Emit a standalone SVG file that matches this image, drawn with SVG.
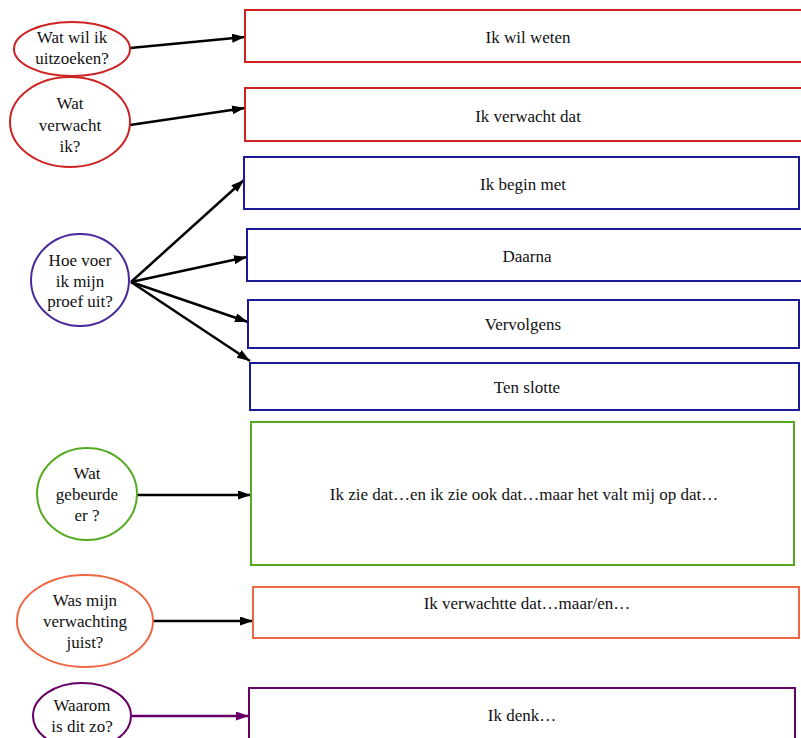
<svg xmlns="http://www.w3.org/2000/svg" width="801" height="738" viewBox="0 0 801 738">
<style>
text{font-size:17px;fill:#111;text-anchor:middle}
.n{fill:#fff;stroke-width:2}
.c line{stroke:#000;stroke-width:2.5}
</style>
<defs>
<marker id="ah" markerWidth="13" markerHeight="9" refX="13" refY="4.5" orient="auto" markerUnits="userSpaceOnUse"><path d="M0,0L13,4.5L0,9z" fill="#000"/></marker>
<marker id="ahp" markerWidth="13" markerHeight="9" refX="13" refY="4.5" orient="auto" markerUnits="userSpaceOnUse"><path d="M0,0L13,4.5L0,9z" fill="#660066"/></marker>
</defs>
<rect width="801" height="738" fill="#fff"/>
<g class="c" id="connectors">
<line x1="130" y1="48" x2="245" y2="37" marker-end="url(#ah)"/>
<line x1="130" y1="125" x2="245" y2="108" marker-end="url(#ah)"/>
<line x1="131" y1="282" x2="244" y2="180" marker-end="url(#ah)"/>
<line x1="131" y1="282" x2="247" y2="257" marker-end="url(#ah)"/>
<line x1="131" y1="282" x2="248" y2="322" marker-end="url(#ah)"/>
<line x1="131" y1="282" x2="250" y2="361" marker-end="url(#ah)"/>
<line x1="137" y1="495" x2="251" y2="495" marker-end="url(#ah)"/>
<line x1="153" y1="621" x2="253" y2="621" marker-end="url(#ah)"/>
<line x1="132" y1="716" x2="249" y2="716" style="stroke:#660066" marker-end="url(#ahp)"/>
</g>
<g font-family="'Liberation Serif', Tinos, 'Times New Roman', 'DejaVu Serif', 'Noto Serif', serif">
<g id="q1"><ellipse class="n" cx="72" cy="49" rx="58" ry="27" stroke="#cc2222"/><text x="72" y="43">Wat wil ik</text><text x="72" y="64">uitzoeken?</text></g>
<g id="q2"><ellipse class="n" cx="70" cy="122" rx="60" ry="45" stroke="#cc2222"/><text x="70" y="109">Wat</text><text x="70" y="131">verwacht</text><text x="70" y="152">ik?</text></g>
<g id="q3"><ellipse class="n" cx="80" cy="280" rx="49" ry="46" stroke="#4a2a99"/><text x="80" y="266">Hoe voer</text><text x="80" y="287">ik mijn</text><text x="80" y="307">proef uit?</text></g>
<g id="q4"><ellipse class="n" cx="87" cy="494" rx="50" ry="46" stroke="#55aa22"/><text x="87" y="479">Wat</text><text x="87" y="500">gebeurde</text><text x="87" y="521">er ?</text></g>
<g id="q5"><ellipse class="n" cx="85" cy="621" rx="68" ry="46" stroke="#ee6644"/><text x="85" y="606">Was mijn</text><text x="85" y="627">verwachting</text><text x="85" y="648">juist?</text></g>
<g id="q6"><ellipse class="n" cx="82" cy="716" rx="49" ry="33" stroke="#660066"/><text x="82" y="711">Waarom</text><text x="82" y="732">is dit zo?</text></g>
<g id="b1"><rect class="n" x="245" y="10" width="570" height="52" stroke="#cc2222"/><text x="528" y="43">Ik wil weten</text></g>
<g id="b2"><rect class="n" x="245" y="88" width="570" height="53" stroke="#cc2222"/><text x="528" y="122">Ik verwacht dat</text></g>
<g id="b3"><rect class="n" x="244" y="157" width="555" height="52" stroke="#1a1a99"/><text x="523" y="190">Ik begin met</text></g>
<g id="b4"><rect class="n" x="247" y="229" width="570" height="52" stroke="#1a1a99"/><text x="527" y="262">Daarna</text></g>
<g id="b5"><rect class="n" x="248" y="300" width="551" height="48" stroke="#1a1a99"/><text x="523" y="330">Vervolgens</text></g>
<g id="b6"><rect class="n" x="250" y="363" width="549" height="47" stroke="#1a1a99"/><text x="527" y="393">Ten slotte</text></g>
<g id="b7"><rect class="n" x="251" y="422" width="543" height="143" stroke="#55aa22"/><text x="524" y="500">Ik zie dat…en ik zie ook dat…maar het valt mij op dat…</text></g>
<g id="b8"><rect class="n" x="253" y="587" width="546" height="51" stroke="#ee6644"/><text x="527" y="609">Ik verwachtte dat…maar/en…</text></g>
<g id="b9"><rect class="n" x="249" y="688" width="546" height="70" stroke="#660066"/><text x="522" y="721">Ik denk…</text></g>
</g>
</svg>
